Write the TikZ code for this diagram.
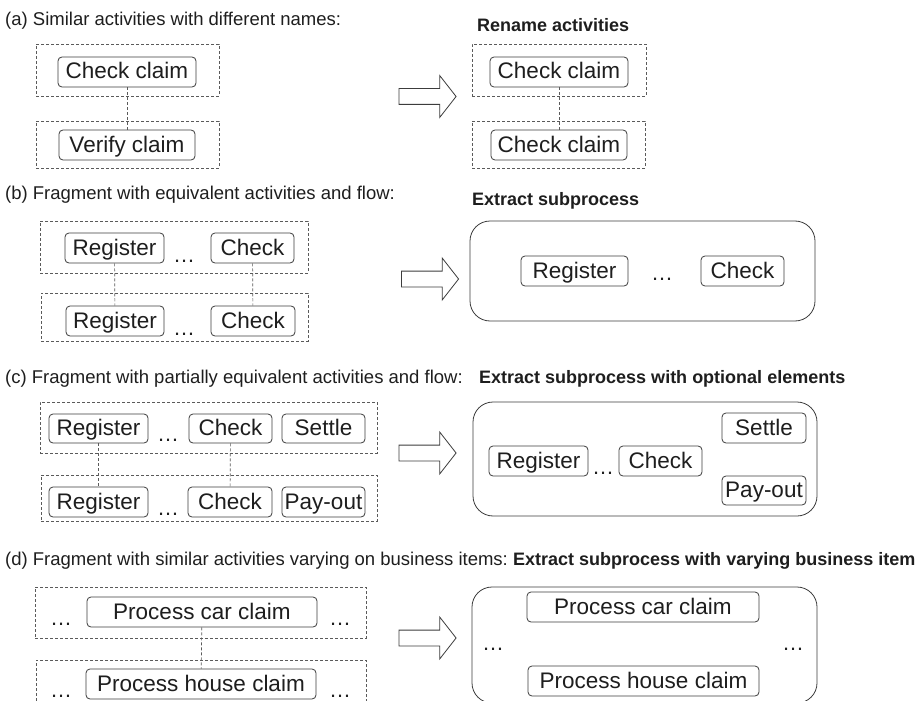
\documentclass[tikz,border=0pt]{standalone}
\usepackage{fontspec}
\setmainfont{Liberation Sans}
\usepackage{xcolor}
\usepackage{tikz}
\usetikzlibrary{shapes.arrows}
\definecolor{LineGray}{RGB}{60,60,60}
\definecolor{DashGray}{RGB}{90,90,90}
\definecolor{InkGray}{RGB}{30,30,30}

\begin{document}
\begin{tikzpicture}[
  x=1pt, y=-1pt,
  every node/.style={text=InkGray},
  act/.style={rectangle, rounded corners=4pt, draw=LineGray, line width=0.8pt, font=\fontsize{22.5}{24}\selectfont, inner sep=0pt, text height=17pt, text depth=3pt, minimum height=30pt},
  grp/.style={rectangle, draw=DashGray, line width=0.7pt, dash pattern=on 3pt off 2pt, inner sep=0pt},
  sub/.style={rectangle, rounded corners=20pt, draw=LineGray, line width=0.8pt, inner sep=0pt},
  lnk/.style={draw=DashGray, line width=0.7pt, dash pattern=on 3pt off 2pt},
  flow/.style={shape=single arrow, draw=LineGray, line width=0.8pt, inner sep=0pt, text height=15pt, text depth=0pt, minimum height=57pt, single arrow head extend=13pt, single arrow tip angle=104, single arrow head indent=0pt},
  lab/.style={anchor=base west, inner sep=0pt, font=\fontsize{18.5}{20}\selectfont},
  ttl/.style={anchor=base west, inner sep=0pt, font=\fontsize{18}{20}\selectfont\bfseries},
  dots/.style={anchor=base, inner sep=0pt, font=\fontsize{22}{24}\selectfont}
]
\path[fill=white, use as bounding box] (0,0) rectangle (922,701);

% (a) rename
\node[lab] (lab-a) at (5,26) {(a) Similar activities with different names:};
\node[ttl] (ttl-a) at (477,32) {Rename activities};
\node[grp, minimum width=183pt, minimum height=52pt] (grp-a1) at (127.5,70) {};
\node[grp, minimum width=183pt, minimum height=47pt] (grp-a2) at (127.5,144.5) {};
\node[act, minimum width=138pt] (a-chk) at (127,72) {Check claim};
\node[act, minimum width=136pt] (a-ver) at (127,145) {Verify claim};
\draw[lnk] (a-chk) -- (a-ver);
\node[flow] (arr-a) at (424.5,96.5) {};
\node[grp, minimum width=174pt, minimum height=52pt] (grp-a3) at (559,70) {};
\node[grp, minimum width=173pt, minimum height=47pt] (grp-a4) at (558.5,144.5) {};
\node[act, minimum width=138pt] (a-chk2) at (559,72) {Check claim};
\node[act, minimum width=136pt] (a-chk3) at (559,145) {Check claim};
\draw[lnk] (a-chk2) -- (a-chk3);

% (b) extract subprocess
\node[lab] (lab-b) at (5,199) {(b) Fragment with equivalent activities and flow:};
\node[ttl] (ttl-b) at (472,205) {Extract subprocess};
\node[grp, minimum width=268pt, minimum height=52pt] (grp-b1) at (174,247) {};
\node[grp, minimum width=267pt, minimum height=48pt] (grp-b2) at (174.5,317) {};
\node[act, minimum width=99pt] (b-reg1) at (114.5,248) {Register};
\node[dots] (b-dots1) at (184,262) {…};
\node[act, minimum width=83pt] (b-chk1) at (252.5,248) {Check};
\node[act, minimum width=98pt] (b-reg2) at (115,321) {Register};
\node[dots] (b-dots2) at (184,335) {…};
\node[act, minimum width=84pt] (b-chk2) at (253,321) {Check};
\draw[lnk] (b-reg1) -- (b-reg2);
\draw[lnk] (b-chk1) -- (b-chk2);
\node[flow] (arr-b) at (427,279) {};
\node[sub, minimum width=345pt, minimum height=100pt] (sub-b) at (642.5,271) {};
\node[act, minimum width=107pt] (b-reg3) at (574.5,271) {Register};
\node[dots] (b-dots3) at (662,280) {…};
\node[act, minimum width=83pt] (b-chk3) at (742.5,271) {Check};

% (c) extract subprocess with optional elements
\node[lab] (lab-c) at (5,383) {(c) Fragment with partially equivalent activities and flow:};
\node[ttl] (ttl-c) at (479,383) {Extract subprocess with optional elements};
\node[grp, minimum width=337pt, minimum height=51pt] (grp-c1) at (208.5,427.5) {};
\node[grp, minimum width=336pt, minimum height=46pt] (grp-c2) at (209,498) {};
\node[act, minimum width=99pt, minimum height=29pt] (c-reg1) at (98.5,428.5) {Register};
\node[dots] (c-dots1) at (168,441) {…};
\node[act, minimum width=83pt, minimum height=29pt] (c-chk1) at (230.5,428.5) {Check};
\node[act, minimum width=83pt, minimum height=29pt] (c-set1) at (323.5,428.5) {Settle};
\node[act, minimum width=99pt] (c-reg2) at (98.5,502) {Register};
\node[dots] (c-dots2) at (168,515) {…};
\node[act, minimum width=84pt] (c-chk2) at (230,502) {Check};
\node[act, minimum width=83pt] (c-pay1) at (323.5,502) {Pay-out};
\draw[lnk] (c-reg1) -- (c-reg2);
\draw[lnk] (c-chk1) -- (c-chk2);
\node[flow] (arr-c) at (424.5,453) {};
\node[sub, minimum width=344pt, minimum height=114pt] (sub-c) at (645,459) {};
\node[act, minimum width=84pt] (c-set2) at (764,428) {Settle};
\node[act, minimum width=99pt] (c-reg3) at (538.5,461) {Register};
\node[dots] (c-dots3) at (603,474) {…};
\node[act, minimum width=83pt] (c-chk3) at (660.5,461) {Check};
\node[act, minimum width=84pt, minimum height=29pt] (c-pay2) at (764,490.5) {Pay-out};

% (d) extract subprocess with varying business items
\node[lab] (lab-d) at (5,565) {(d) Fragment with similar activities varying on business items:};
\node[ttl] (ttl-d) at (513,565) {Extract subprocess with varying business item};
\node[grp, minimum width=331pt, minimum height=51pt] (grp-d1) at (200.5,612.5) {};
\node[grp, minimum width=330pt, minimum height=52pt] (grp-d2) at (201,686) {};
\node[act, minimum width=230pt] (d-car1) at (202,612) {Process car claim};
\node[dots] (d-dots1) at (61,625) {…};
\node[dots] (d-dots2) at (340,625) {…};
\node[act, minimum width=230pt] (d-hou1) at (201,684) {Process house claim};
\node[dots] (d-dots3) at (61,697) {…};
\node[dots] (d-dots4) at (340,697) {…};
\draw[lnk] (d-car1) -- (d-hou1);
\node[flow] (arr-d) at (424.5,638) {};
\node[sub, minimum width=345pt, minimum height=116pt] (sub-d) at (644.5,645) {};
\node[act, minimum width=232pt] (d-car2) at (643,607) {Process car claim};
\node[act, minimum width=231pt] (d-hou2) at (643.5,681) {Process house claim};
\node[dots] (d-dots5) at (493,650) {…};
\node[dots] (d-dots6) at (793,650) {…};
\end{tikzpicture}
\end{document}
